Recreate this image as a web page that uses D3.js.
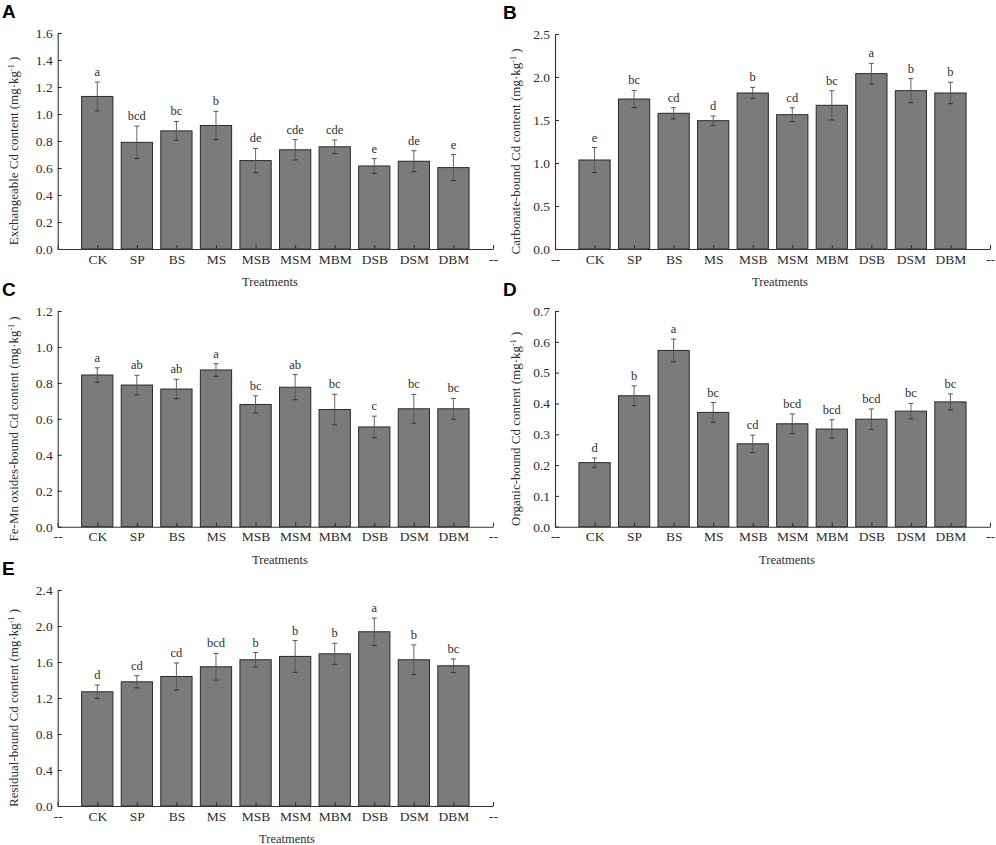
<!DOCTYPE html>
<html>
<head>
<meta charset="utf-8">
<title>Cd fractions by treatment</title>
<style>
  body { margin: 0; background: #fff; }
  text { font-family: "Liberation Serif", "Times New Roman", serif; fill: #2e2e2e; }
</style>
</head>
<body>
<script src="https://d3js.org/d3.v7.min.js"></script>
<script>

var categories = ["CK", "SP", "BS", "MS", "MSB", "MSM", "MBM", "DSB", "DSM", "DBM"];

// A: exchangeable
var valuesA  = [1.13, 0.79, 0.875, 0.915, 0.655, 0.735, 0.757, 0.615, 0.65, 0.603];
var errorsA  = [0.107, 0.12, 0.07, 0.105, 0.09, 0.075, 0.05, 0.055, 0.078, 0.096];
var lettersA = ["a", "bcd", "bc", "b", "de", "cde", "cde", "e", "de", "e"];
var ticksA   = [0, 0.2, 0.4, 0.6, 0.8, 1.0, 1.2, 1.4, 1.6];

// B: carbonate-bound
var valuesB  = [1.035, 1.744, 1.578, 1.492, 1.814, 1.562, 1.671, 2.039, 1.841, 1.814];
var errorsB  = [0.145, 0.1, 0.065, 0.055, 0.065, 0.08, 0.17, 0.12, 0.14, 0.125];
var lettersB = ["e", "bc", "cd", "d", "b", "cd", "bc", "a", "b", "b"];
var ticksB   = [0, 0.5, 1.0, 1.5, 2.0, 2.5];

// C: Fe-Mn oxides-bound
var valuesC  = [0.844, 0.788, 0.766, 0.872, 0.68, 0.776, 0.652, 0.555, 0.656, 0.656];
var errorsC  = [0.04, 0.054, 0.054, 0.035, 0.048, 0.07, 0.085, 0.06, 0.08, 0.058];
var lettersC = ["a", "ab", "ab", "a", "bc", "ab", "bc", "c", "bc", "bc"];
var ticksC   = [0, 0.2, 0.4, 0.6, 0.8, 1.0, 1.2];

// D: organic-bound
var valuesD  = [0.208, 0.425, 0.572, 0.371, 0.269, 0.334, 0.317, 0.349, 0.375, 0.405];
var errorsD  = [0.015, 0.032, 0.037, 0.032, 0.028, 0.032, 0.03, 0.033, 0.025, 0.026];
var lettersD = ["d", "b", "a", "bc", "cd", "bcd", "bcd", "bcd", "bc", "bc"];
var ticksD   = [0, 0.1, 0.2, 0.3, 0.4, 0.5, 0.6, 0.7];

// E: residual-bound
var valuesE  = [1.269, 1.38, 1.439, 1.547, 1.625, 1.662, 1.691, 1.936, 1.625, 1.558];
var errorsE  = [0.075, 0.068, 0.15, 0.148, 0.08, 0.176, 0.117, 0.152, 0.165, 0.076];
var lettersE = ["d", "cd", "cd", "bcd", "b", "b", "b", "a", "b", "bc"];
var ticksE   = [0, 0.4, 0.8, 1.2, 1.6, 2.0, 2.4];

var svg = d3.select("body")
    .append("svg")
    .attr("width", 996)
    .attr("height", 845);

var panels = [
  {tag: "A", x0: 57.7, x1: 493, top: 33,  bot: 249,   vals: valuesA, errs: errorsA, lets: lettersA, ticks: ticksA, fmt: ".1f",
   title: "Exchangeable Cd content ", tx: 13, xt: 270, leftDash: false},
  {tag: "B", x0: 555,  x1: 990, top: 34,  bot: 249,   vals: valuesB, errs: errorsB, lets: lettersB, ticks: ticksB, fmt: ".1f",
   title: "Carbonate-bound Cd content ", tx: 515, xt: 780, leftDash: true},
  {tag: "C", x0: 57.7, x1: 493, top: 311, bot: 526.7, vals: valuesC, errs: errorsC, lets: lettersC, ticks: ticksC, fmt: ".1f",
   title: "Fe-Mn oxides-bound Cd content  ", tx: 13, xt: 280, leftDash: true},
  {tag: "D", x0: 555,  x1: 990, top: 311, bot: 526.7, vals: valuesD, errs: errorsD, lets: lettersD, ticks: ticksD, fmt: ".1f",
   title: "Organic-bound Cd content  ", tx: 515, xt: 787, leftDash: true},
  {tag: "E", x0: 57.7, x1: 493, top: 590, bot: 806,   vals: valuesE, errs: errorsE, lets: lettersE, ticks: ticksE, fmt: ".1f",
   title: "Residual-bound Cd content  ", tx: 13, xt: 287, leftDash: true}
];

panels.forEach(function(p){

    var domainX = ["L"].concat(categories, ["R"]);
    var x = d3.scalePoint().domain(domainX).range([p.x0, p.x1]);
    var bw = x.step() * 0.79;

    var ymax = p.ticks[p.ticks.length - 1];
    var y = d3.scaleLinear().domain([0, ymax]).range([p.bot, p.top]);

    var g = svg.append("g");

    var rows = categories.map(function(c, i){
        return {cat: c, v: p.vals[i], e: p.errs[i], l: p.lets[i]};
    });

    // bars
    g.selectAll("rect.bar")
        .data(rows)
        .enter()
        .append("rect")
        .attr("x", function(d){ return x(d.cat) - bw / 2; })
        .attr("y", function(d){ return y(d.v); })
        .attr("width", bw)
        .attr("height", function(d){ return y(0) - y(d.v); })
        .attr("fill", "#7b7b7b")
        .attr("stroke", "#2a2a2a")
        .attr("stroke-width", 1);

    // error bars
    var eb = g.selectAll("g.err")
        .data(rows)
        .enter()
        .append("g");
    eb.append("line")
        .attr("x1", function(d){ return x(d.cat); })
        .attr("x2", function(d){ return x(d.cat); })
        .attr("y1", function(d){ return y(d.v + d.e); })
        .attr("y2", function(d){ return y(d.v - d.e); })
        .attr("stroke", "#555")
        .attr("stroke-width", 0.9);
    eb.append("line")
        .attr("x1", function(d){ return x(d.cat) - 2.5; })
        .attr("x2", function(d){ return x(d.cat) + 2.5; })
        .attr("y1", function(d){ return y(d.v + d.e); })
        .attr("y2", function(d){ return y(d.v + d.e); })
        .attr("stroke", "#555")
        .attr("stroke-width", 1);
    eb.append("line")
        .attr("x1", function(d){ return x(d.cat) - 2.5; })
        .attr("x2", function(d){ return x(d.cat) + 2.5; })
        .attr("y1", function(d){ return y(d.v - d.e); })
        .attr("y2", function(d){ return y(d.v - d.e); })
        .attr("stroke", "#333")
        .attr("stroke-width", 1);

    // significance letters
    g.selectAll("text.sig")
        .data(rows)
        .enter()
        .append("text")
        .attr("x", function(d){ return x(d.cat); })
        .attr("y", function(d){ return y(d.v + d.e) - 6; })
        .attr("text-anchor", "middle")
        .attr("font-size", 12.5)
        .text(function(d){ return d.l; });

    // axes
    var yAxis = d3.axisLeft(y)
        .tickValues(p.ticks)
        .tickFormat(d3.format(p.fmt))
        .tickSizeInner(-4)
        .tickSizeOuter(0)
        .tickPadding(5);
    var ya = g.append("g")
        .attr("transform", "translate(" + p.x0 + ",0)")
        .call(yAxis);

    var xAxis = d3.axisBottom(x)
        .tickSizeInner(-4)
        .tickSizeOuter(0)
        .tickPadding(5)
        .tickFormat(function(d){
            if (d === "L") return p.leftDash ? "--" : "";
            if (d === "R") return "--";
            return d;
        });
    var xa = g.append("g")
        .attr("transform", "translate(0," + p.bot + ")")
        .call(xAxis);

    [ya, xa].forEach(function(a){
        a.selectAll("path, line").attr("stroke", "#333").attr("stroke-width", 1.1);
        a.selectAll("text")
            .attr("font-family", "Liberation Serif, serif")
            .attr("font-size", 13.5)
            .attr("fill", "#2e2e2e");
    });

    // axis titles
    g.append("text")
        .attr("x", p.xt)
        .attr("y", p.bot + 37)
        .attr("text-anchor", "middle")
        .attr("font-size", 12.5)
        .text("Treatments");

    var yt = g.append("text")
        .attr("transform", "translate(" + p.tx + "," + ((p.top + p.bot) / 2 + 10) + ") rotate(-90)")
        .attr("text-anchor", "middle")
        .attr("dy", "0.35em")
        .attr("font-size", 13);
    yt.append("tspan").text(p.title + "(mg\u00b7kg");
    yt.append("tspan").attr("baseline-shift", "super").attr("font-size", 8).text("-1");
    yt.append("tspan").text(" )");

    // panel letter
    svg.append("text")
        .attr("x", p.x0 < 100 ? 2 : 503)
        .attr("y", p.top - 15)
        .attr("font-family", "Liberation Sans, Arial, sans-serif")
        .attr("font-weight", "bold")
        .attr("font-size", 19)
        .style("font-family", "'Liberation Sans', Arial, sans-serif")
        .style("fill", "#000")
        .text(p.tag);
});

</script>
</body>
</html>
